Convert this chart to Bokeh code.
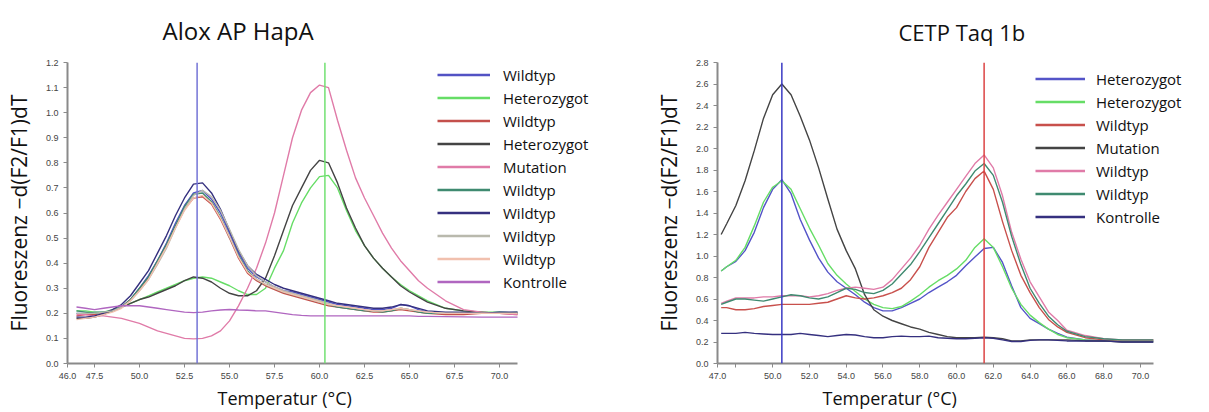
from bokeh.plotting import figure
from bokeh.models import FixedTicker, Span, Legend, LegendItem, NumeralTickFormatter, Title
from bokeh.layouts import row
from bokeh.embed import file_html
from bokeh.resources import INLINE

# ---------------- Left chart: Alox AP HapA ----------------
left_title = "Alox AP HapA"
left_T = [46.5, 47, 47.5, 48, 48.5, 49, 49.5, 50, 50.5, 51, 51.5, 52, 52.5, 53, 53.5, 54, 54.5, 55,
          55.5, 56, 56.5, 57, 57.5, 58, 58.5, 59, 59.5, 60, 60.5, 61, 61.5, 62, 62.5, 63, 63.5, 64,
          64.5, 65, 65.5, 66, 67, 68, 69, 70, 71]
left_wt_blue = [0.20, 0.20, 0.205, 0.205, 0.21, 0.225, 0.255, 0.30, 0.35, 0.41, 0.48, 0.56, 0.63, 0.68, 0.69,
                0.655, 0.60, 0.52, 0.44, 0.38, 0.345, 0.325, 0.305, 0.29, 0.285, 0.275, 0.265, 0.255, 0.245,
                0.235, 0.23, 0.225, 0.22, 0.215, 0.215, 0.22, 0.235, 0.23, 0.215, 0.205, 0.20, 0.20, 0.20, 0.205, 0.20]
left_het_green = [0.21, 0.21, 0.205, 0.205, 0.215, 0.225, 0.24, 0.255, 0.27, 0.285, 0.30, 0.315, 0.33, 0.34, 0.345,
                  0.34, 0.325, 0.31, 0.29, 0.275, 0.275, 0.30, 0.38, 0.45, 0.56, 0.64, 0.70, 0.745, 0.75,
                  0.70, 0.61, 0.53, 0.47, 0.42, 0.38, 0.345, 0.315, 0.29, 0.27, 0.25, 0.22, 0.21, 0.205, 0.205, 0.20]
left_wt_red = [0.19, 0.195, 0.195, 0.20, 0.21, 0.225, 0.255, 0.295, 0.34, 0.40, 0.47, 0.545, 0.615, 0.66, 0.665,
               0.635, 0.575, 0.50, 0.42, 0.36, 0.33, 0.31, 0.295, 0.28, 0.27, 0.26, 0.25, 0.24, 0.23,
               0.225, 0.22, 0.215, 0.21, 0.205, 0.205, 0.21, 0.215, 0.21, 0.205, 0.20, 0.195, 0.195, 0.20, 0.20, 0.195]
left_het_black = [0.18, 0.18, 0.185, 0.195, 0.21, 0.225, 0.24, 0.255, 0.265, 0.28, 0.295, 0.31, 0.33, 0.345, 0.34,
                  0.325, 0.30, 0.28, 0.27, 0.27, 0.29, 0.34, 0.43, 0.53, 0.63, 0.70, 0.77, 0.81, 0.80,
                  0.72, 0.62, 0.54, 0.47, 0.42, 0.38, 0.345, 0.31, 0.285, 0.265, 0.245, 0.22, 0.21, 0.205, 0.20, 0.20]
left_mutation = [0.195, 0.195, 0.19, 0.19, 0.185, 0.18, 0.17, 0.16, 0.145, 0.13, 0.12, 0.11, 0.10, 0.098, 0.10,
                 0.11, 0.13, 0.17, 0.23, 0.30, 0.38, 0.48, 0.60, 0.75, 0.90, 1.01, 1.08, 1.11, 1.10,
                 0.97, 0.85, 0.74, 0.66, 0.59, 0.52, 0.46, 0.41, 0.37, 0.33, 0.30, 0.25, 0.215, 0.205, 0.20, 0.195]
left_wt_teal = [0.21, 0.205, 0.20, 0.205, 0.21, 0.225, 0.255, 0.30, 0.345, 0.41, 0.475, 0.55, 0.625, 0.675, 0.68,
                0.645, 0.585, 0.505, 0.43, 0.37, 0.335, 0.315, 0.30, 0.285, 0.275, 0.265, 0.255, 0.245, 0.235,
                0.225, 0.22, 0.215, 0.21, 0.21, 0.205, 0.21, 0.22, 0.215, 0.205, 0.20, 0.20, 0.20, 0.20, 0.20, 0.205]
left_wt_navy = [0.185, 0.185, 0.19, 0.20, 0.215, 0.235, 0.27, 0.32, 0.37, 0.44, 0.51, 0.59, 0.66, 0.715, 0.72,
                0.68, 0.615, 0.53, 0.45, 0.39, 0.355, 0.335, 0.315, 0.30, 0.29, 0.28, 0.27, 0.26, 0.25,
                0.24, 0.235, 0.23, 0.225, 0.22, 0.22, 0.225, 0.235, 0.23, 0.22, 0.21, 0.205, 0.205, 0.20, 0.205, 0.205]
left_wt_gray = [0.20, 0.20, 0.20, 0.205, 0.21, 0.225, 0.25, 0.29, 0.335, 0.395, 0.46, 0.54, 0.615, 0.67, 0.69,
                0.665, 0.61, 0.535, 0.455, 0.39, 0.35, 0.325, 0.305, 0.29, 0.28, 0.27, 0.26, 0.25, 0.24,
                0.23, 0.225, 0.22, 0.215, 0.21, 0.21, 0.215, 0.22, 0.215, 0.21, 0.205, 0.20, 0.20, 0.20, 0.20, 0.20]
left_wt_peach = [0.175, 0.18, 0.185, 0.195, 0.205, 0.22, 0.25, 0.29, 0.335, 0.40, 0.465, 0.54, 0.61, 0.66, 0.67,
                 0.64, 0.58, 0.505, 0.425, 0.365, 0.335, 0.315, 0.30, 0.285, 0.275, 0.265, 0.255, 0.245, 0.235,
                 0.23, 0.225, 0.22, 0.215, 0.21, 0.21, 0.215, 0.22, 0.215, 0.21, 0.205, 0.20, 0.20, 0.20, 0.20, 0.20]
left_kontrolle = [0.225, 0.22, 0.215, 0.22, 0.225, 0.23, 0.23, 0.23, 0.225, 0.22, 0.215, 0.21, 0.205, 0.203, 0.205,
                  0.21, 0.213, 0.215, 0.213, 0.212, 0.21, 0.21, 0.205, 0.20, 0.195, 0.192, 0.19, 0.19, 0.19,
                  0.19, 0.19, 0.19, 0.19, 0.19, 0.19, 0.19, 0.19, 0.19, 0.188, 0.188, 0.187, 0.186, 0.185, 0.185, 0.185]
left_labels = ["Wildtyp", "Heterozygot", "Wildtyp", "Heterozygot", "Mutation",
               "Wildtyp", "Wildtyp", "Wildtyp", "Wildtyp", "Kontrolle"]
left_colors = ["#5252c4", "#66dd66", "#c4504c", "#444444", "#e07ba8",
               "#3f8a70", "#35307f", "#b9b9ad", "#f1c0ae", "#b066c0"]
left_series = [left_wt_blue, left_het_green, left_wt_red, left_het_black, left_mutation,
               left_wt_teal, left_wt_navy, left_wt_gray, left_wt_peach, left_kontrolle]
left_markers = [53.2, 60.3]
left_marker_colors = ["#7474d6", "#72e072"]
left_xticks = [46.0, 47.5, 50.0, 52.5, 55.0, 57.5, 60.0, 62.5, 65.0, 67.5, 70.0]
left_yticks = [0.0, 0.1, 0.2, 0.3, 0.4, 0.5, 0.6, 0.7, 0.8, 0.9, 1.0, 1.1, 1.2]

# ---------------- Right chart: CETP Taq 1b ----------------
right_title = "CETP Taq 1b"
right_T = [47.2, 47.5, 48, 48.5, 49, 49.5, 50, 50.5, 51, 51.5, 52, 52.5, 53, 53.5, 54, 54.5, 55, 55.5,
           56, 56.5, 57, 57.5, 58, 58.5, 59, 59.5, 60, 60.5, 61, 61.5, 62, 62.5, 63, 63.5, 64, 64.5,
           65, 65.5, 66, 67, 68, 69, 70, 70.7]
right_het_blue = [0.86, 0.90, 0.95, 1.05, 1.22, 1.45, 1.62, 1.71, 1.58, 1.34, 1.15, 0.98, 0.85, 0.76, 0.70, 0.64,
                  0.57, 0.52, 0.49, 0.49, 0.52, 0.56, 0.60, 0.66, 0.71, 0.76, 0.82, 0.91, 0.99, 1.07, 1.08, 0.94,
                  0.72, 0.52, 0.42, 0.37, 0.32, 0.28, 0.245, 0.22, 0.21, 0.21, 0.21, 0.21]
right_het_green = [0.86, 0.90, 0.96, 1.08, 1.28, 1.50, 1.64, 1.70, 1.62, 1.44, 1.26, 1.10, 0.93, 0.82, 0.74, 0.67,
                   0.60, 0.55, 0.52, 0.51, 0.53, 0.58, 0.64, 0.71, 0.77, 0.82, 0.88, 0.96, 1.08, 1.16, 1.08, 0.90,
                   0.70, 0.55, 0.45, 0.38, 0.32, 0.27, 0.24, 0.22, 0.21, 0.21, 0.21, 0.21]
right_wt_red = [0.52, 0.52, 0.50, 0.50, 0.51, 0.53, 0.54, 0.55, 0.55, 0.55, 0.55, 0.56, 0.57, 0.60, 0.63, 0.61,
                0.60, 0.61, 0.63, 0.66, 0.70, 0.78, 0.90, 1.08, 1.22, 1.36, 1.45, 1.60, 1.72, 1.79, 1.62, 1.32,
                1.05, 0.82, 0.66, 0.52, 0.41, 0.34, 0.29, 0.24, 0.22, 0.22, 0.22, 0.22]
right_mutation = [1.20, 1.30, 1.47, 1.70, 1.98, 2.28, 2.50, 2.60, 2.50, 2.30, 2.08, 1.82, 1.53, 1.25, 1.05, 0.88,
                  0.64, 0.50, 0.44, 0.40, 0.37, 0.34, 0.32, 0.29, 0.27, 0.25, 0.24, 0.24, 0.24, 0.245, 0.24, 0.23,
                  0.21, 0.21, 0.22, 0.22, 0.22, 0.22, 0.22, 0.21, 0.21, 0.20, 0.20, 0.20]
right_wt_pink = [0.56, 0.58, 0.61, 0.61, 0.61, 0.62, 0.62, 0.63, 0.63, 0.63, 0.62, 0.63, 0.65, 0.68, 0.70, 0.71,
                 0.70, 0.69, 0.71, 0.78, 0.88, 0.98, 1.10, 1.25, 1.38, 1.50, 1.62, 1.74, 1.86, 1.94, 1.82, 1.56,
                 1.22, 0.97, 0.76, 0.62, 0.48, 0.40, 0.31, 0.26, 0.23, 0.22, 0.22, 0.22]
right_wt_teal = [0.55, 0.57, 0.60, 0.60, 0.59, 0.58, 0.60, 0.62, 0.64, 0.63, 0.61, 0.60, 0.62, 0.66, 0.70, 0.69,
                 0.66, 0.65, 0.68, 0.74, 0.83, 0.92, 1.04, 1.17, 1.30, 1.43, 1.56, 1.67, 1.79, 1.86, 1.75, 1.50,
                 1.18, 0.92, 0.70, 0.56, 0.44, 0.36, 0.30, 0.25, 0.23, 0.22, 0.22, 0.22]
right_kontrolle = [0.28, 0.28, 0.28, 0.29, 0.28, 0.275, 0.27, 0.27, 0.27, 0.28, 0.27, 0.26, 0.25, 0.26, 0.27, 0.265,
                   0.25, 0.24, 0.24, 0.25, 0.255, 0.25, 0.25, 0.255, 0.24, 0.235, 0.23, 0.23, 0.235, 0.24, 0.235, 0.22,
                   0.205, 0.205, 0.215, 0.22, 0.22, 0.215, 0.21, 0.21, 0.21, 0.20, 0.20, 0.20]
right_labels = ["Heterozygot", "Heterozygot", "Wildtyp", "Mutation", "Wildtyp", "Wildtyp", "Kontrolle"]
right_colors = ["#5454c8", "#66dd66", "#c8504c", "#444444", "#e07ba8", "#3f8a70", "#35307f"]
right_series = [right_het_blue, right_het_green, right_wt_red, right_mutation,
                right_wt_pink, right_wt_teal, right_kontrolle]
right_markers = [50.5, 61.5]
right_marker_colors = ["#3a3ac4", "#dc4444"]
right_xticks = [47.0, 48.0, 50.0, 52.0, 54.0, 56.0, 58.0, 60.0, 62.0, 64.0, 66.0, 68.0, 70.0]
right_yticks = [0.0, 0.2, 0.4, 0.6, 0.8, 1.0, 1.2, 1.4, 1.6, 1.8, 2.0, 2.2, 2.4, 2.6, 2.8]

y_label = "Fluoreszenz \u2212d(F2/F1)dT"
x_label = "Temperatur (\u00b0C)"
FONT = "Open Sans"
TICKFONT = "Liberation Sans"
NAN = float("nan")


def make_chart(title, T, series, labels, colors, markers, marker_colors, xticks, yticks,
               x_range, x_bounds, y_range, width, borders, title_size, title_offset, title_standoff,
               xlabel_offset, legend_loc, glyph_w, standoff):
    bl, br, bt, bb = borders
    p = figure(width=width, height=412, x_range=x_range, y_range=y_range,
               output_backend="svg", toolbar_location=None,
               min_border_left=bl, min_border_right=br, min_border_top=bt, min_border_bottom=bb)
    p.outline_line_color = None
    p.grid.visible = False
    p.background_fill_color = "white"
    p.border_fill_color = "white"

    p.title.text = title
    p.title.align = "left"
    p.title.vertical_align = "top"
    p.title.offset = title_offset
    p.title.text_font = FONT
    p.title.text_font_size = title_size
    p.title.text_font_style = "normal"
    p.title.text_color = "#111111"
    p.title.standoff = title_standoff

    for ax in (p.xaxis[0], p.yaxis[0]):
        ax.axis_line_color = "#8a8a8a"
        ax.axis_line_width = 2
        ax.major_tick_line_color = "#8a8a8a"
        ax.major_tick_in = 0
        ax.major_tick_out = 4
        ax.minor_tick_line_color = None
        ax.major_label_text_font = TICKFONT
        ax.major_label_text_font_size = "9px"
        ax.major_label_text_color = "#444444"
        ax.formatter = NumeralTickFormatter(format="0.0")

    p.xaxis.ticker = FixedTicker(ticks=xticks)
    p.xaxis.bounds = x_bounds
    p.yaxis.ticker = FixedTicker(ticks=yticks)
    if 48.0 in xticks:
        p.xaxis.major_label_overrides = {48: ""}

    p.yaxis.axis_label = y_label
    p.yaxis.axis_label_text_font = FONT
    p.yaxis.axis_label_text_font_size = "21px"
    p.yaxis.axis_label_text_font_style = "normal"
    p.yaxis.axis_label_text_color = "#111111"
    p.yaxis.axis_label_standoff = 10

    p.add_layout(Title(text=x_label, align="left", offset=xlabel_offset, text_font=FONT,
                       text_font_size="18px", text_font_style="normal", text_color="#111111",
                       standoff=5), "below")

    items = []
    for ys, lab, col in zip(series, labels, colors):
        p.line(T, ys, line_color=col, line_width=1.4)
        key = p.line([NAN], [NAN], line_color=col, line_width=2.5)
        items.append(LegendItem(label=lab, renderers=[key]))

    for m, c in zip(markers, marker_colors):
        p.add_layout(Span(location=m, dimension="height", line_color=c, line_width=1.5))

    leg = Legend(items=items, location=legend_loc, orientation="vertical")
    leg.padding = 0
    leg.margin = 0
    leg.spacing = 0
    leg.border_line_color = None
    leg.background_fill_alpha = 0
    leg.glyph_width = glyph_w
    leg.glyph_height = 23
    leg.label_height = 23
    leg.label_standoff = standoff
    leg.label_text_font = FONT
    leg.label_text_font_size = "15px"
    leg.label_text_color = "#111111"
    p.add_layout(leg, "center")
    return p


p1 = make_chart(left_title, left_T, left_series, left_labels, left_colors, left_markers,
                left_marker_colors, left_xticks, left_yticks, (46.0, 75.61), (46.0, 71.0), (0.0, 1.2), 604,
                (67, 4, 62, 49), "24px", 95, 27, 150, (370, 70), 53, 13)
p2 = make_chart(right_title, right_T, right_series, right_labels, right_colors, right_markers,
                right_marker_colors, right_xticks, right_yticks, (47.0, 73.54), (47.0, 70.71), (0.0, 2.8), 605,
                (113, 4, 59, 49), "22px", 181, 27, 105, (318, 135), 50, 11)

layout = row(p1, p2)
open("out.html", "w").write(file_html(layout, INLINE))
